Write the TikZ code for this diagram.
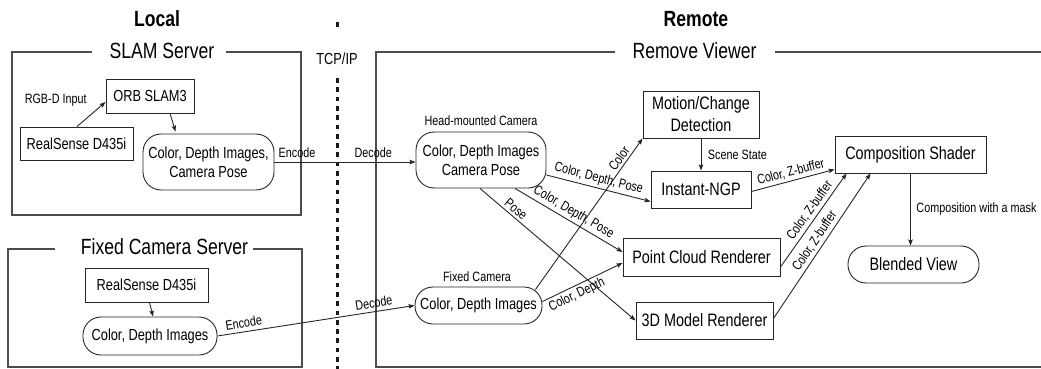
\documentclass[tikz,border=0pt]{standalone}
\usepackage{fontspec}
\setmainfont{Liberation Sans}[FakeStretch=0.8]
\usetikzlibrary{arrows.meta,calc}
\begin{document}
\begin{tikzpicture}[x=1pt,y=-1pt,
  every node/.style={text=black, inner sep=0pt},
  box/.style={draw=black!85, line width=0.9pt, align=center},
  rbox/.style={box, rounded corners=18pt},
  camtxt/.style={font=\fontsize{16}{19}\selectfont},
  proctxt/.style={font=\fontsize{18}{22}\selectfont},
  lbl/.style={font=\fontsize{13.5}{15}\selectfont, inner sep=1.5pt},
  ttl/.style={font=\fontsize{22}{26}\selectfont},
  head/.style={font=\bfseries\fontsize{22}{26}\selectfont},
  frame/.style={draw=black!70, line width=1.3pt},
  sep/.style={draw=black!90, line width=3pt, dash pattern=on 4.7pt off 4.6pt},
  arr/.style={draw=black!85, line width=0.9pt, -{Stealth[length=6pt,width=4.5pt,inset=1pt]}},
]
\useasboundingbox (0,0) rectangle (1041,369);

% headings
\node[head] (local) at (157,19) {Local};
\node[head] (remote) at (696,19) {Remote};

% frames
\draw[frame] (92,52) -- (12,52) -- (12,215) -- (301,215) -- (301,52) -- (226,52);
\node[ttl] (slamttl) at (162,51) {SLAM Server};
\draw[frame] (55,249) -- (8,249) -- (8,367) -- (302,367) -- (302,249) -- (253,249);
\node[ttl] (fixttl) at (164.5,247) {Fixed Camera Server};
\draw[frame] (615,52) -- (376,52) -- (376,367) -- (1041,367);
\draw[frame] (775,52) -- (1041,52);
\node[ttl] (remttl) at (694.5,51) {Remove Viewer};

% separator
\draw[sep] (337,22) -- (337,27.5);
\draw[sep] (337,78) -- (337,369);
\node[font=\fontsize{16}{19}\selectfont] (tcp) at (337,59) {TCP/IP};

% local SLAM server
\node[box, camtxt, minimum width=88, minimum height=34] (orb) at (150,96) {ORB SLAM3};
\node[box, camtxt, minimum width=113, minimum height=33] (rs1) at (76.5,143.5) {RealSense D435i};
\node[rbox, camtxt, minimum width=131, minimum height=56] (cp1) at (208.5,162) {Color, Depth Images,\\Camera Pose};

% fixed camera server
\node[box, camtxt, minimum width=123, minimum height=34] (rs2) at (146.5,285) {RealSense D435i};
\node[rbox, camtxt, minimum width=134, minimum height=38] (cf1) at (150,336) {Color, Depth Images};

% remote
\node[rbox, camtxt, minimum width=130, minimum height=56] (hmc) at (481,160) {Color, Depth Images\\Camera Pose};
\node[lbl] (hmclbl) at (481,121) {Head-mounted Camera};
\node[rbox, camtxt, minimum width=127, minimum height=37] (cfr) at (478.5,305.5) {Color, Depth Images};
\node[lbl] (cfrlbl) at (477,277) {Fixed Camera};
\node[box, proctxt, minimum width=116, minimum height=47] (mot) at (701,114.5) {Motion/Change\\Detection};
\node[box, proctxt, minimum width=100, minimum height=37] (ngp) at (701,189.5) {Instant-NGP};
\node[box, proctxt, minimum width=157, minimum height=38] (pcr) at (701.5,257) {Point Cloud Renderer};
\node[box, proctxt, minimum width=137, minimum height=37] (mdl) at (704.5,320.5) {3D Model Renderer};
\node[box, proctxt, minimum width=151, minimum height=37] (cmp) at (910.5,154.5) {Composition Shader};
\node[rbox, proctxt, minimum width=131, minimum height=37] (bv) at (913.5,264.5) {Blended View};

% connectors
\draw[arr] ($(rs1.north)+(0.5,0)$) -- ($(orb.west)+(0,6)$)
  node[lbl, pos=1, left=17pt, yshift=2pt] (rgbd) {RGB-D Input};
\draw[arr] ($(orb.south)+(20,0)$) -- ($(cp1.north)+(-33,-2)$);
\draw[arr] (cp1.east) -- (cp1.east -| hmc.west)
  node[lbl, above=2.5pt, pos=0.16] (enc1) {Encode}
  node[lbl, above=2.5pt, pos=0.70] (dec1) {Decode};
\draw[arr] ($(rs2.south)+(3,0)$) -- ($(cf1.north)+(3,0)$);
\draw[arr] (cf1.east) -- (cfr.west)
  node[lbl, sloped, above=2pt, pos=0.14] (enc2) {Encode}
  node[lbl, sloped, above=2pt, pos=0.80] (dec2) {Decode};
\draw[arr] ($(hmc.east)+(0,15)$) -- ($(ngp.west)+(0,12)$)
  node[lbl, sloped, above=1pt, pos=0.48] (l6) {Color, Depth, Pose};
\draw[arr] ($(hmc.south)+(34,0)$) -- ($(pcr.west)+(0,-5)$)
  node[lbl, sloped, above=1pt, pos=0.5] (l7) {Color, Depth, Pose};
\draw[arr] ($(hmc.south)+(-1,0)$) -- (mdl.west)
  node[lbl, sloped, above=1pt, pos=0.2] (l8) {Pose};
\draw[arr] ($(cfr.north east)+(-7,3)$) -- (mot.south west)
  node[lbl, sloped, above=1pt, pos=0.84] (l9) {Color};
\draw[arr] ($(cfr.east)+(0,-4)$) -- ($(pcr.west)+(0,6)$)
  node[lbl, sloped, below=1pt, pos=0.38] (l10) {Color, Depth};
\draw[arr] ($(ngp.east)+(0,2)$) -- ($(cmp.south west)+(0,-4)$)
  node[lbl, sloped, above=1pt, pos=0.5] (l11) {Color, Z-buffer};
\draw[arr] ($(pcr.east)+(0,10)$) -- ($(cmp.south west)+(12,0)$)
  node[lbl, sloped, above=1pt, pos=0.55] (l12) {Color, Z-buffer};
\draw[arr] ($(mdl.east)+(0,-2)$) -- ($(cmp.south)+(-40,0)$)
  node[lbl, sloped, above=1pt, pos=0.5] (l13) {Color, Z-buffer};
\draw[arr] (cmp.south) -- (cmp.south |- bv.north)
  node[lbl, right=4pt, pos=0.5] (l14) {Composition with a mask};
\draw[arr] (mot.south) -- (ngp.north)
  node[lbl, right=5pt, pos=0.5] (l15) {Scene State};
\end{tikzpicture}
\end{document}
